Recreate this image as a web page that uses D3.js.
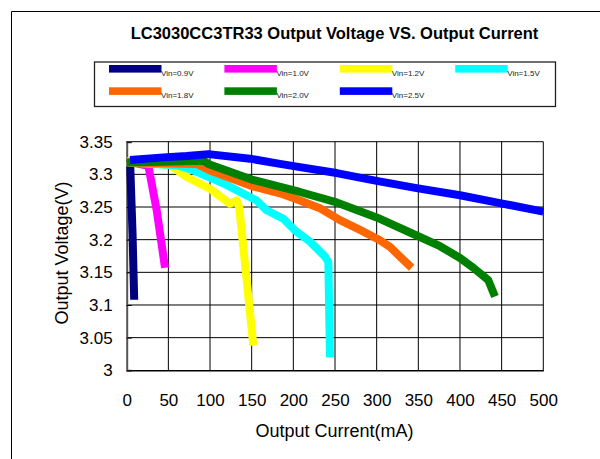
<!DOCTYPE html>
<html>
<head>
    <meta charset="utf-8">
    <title>LC3030CC3TR33 Output Voltage VS. Output Current</title>
    <script src="https://d3js.org/d3.v7.min.js"></script>
    <style>
        body { margin: 0; background: #fff; }
        svg { display: block; font-family: "Liberation Sans", Arial, sans-serif; }
    </style>
</head>
<body>
<svg width="600" height="459"></svg>
<script>
    // data: [output current (mA), output voltage (V)]
    var vin09 = [[4, 3.322], [7, 3.21], [9, 3.108]];
    var vin10 = [[0, 3.32], [26, 3.313], [36, 3.245], [46, 3.157]];
    var vin12 = [[0, 3.32], [20, 3.318], [52, 3.314], [72, 3.296], [100, 3.278], [124, 3.255],
                 [132, 3.26], [135, 3.25], [152, 3.038]];
    var vin15 = [[0, 3.318], [60, 3.314], [76, 3.308], [100, 3.295], [118, 3.285], [156, 3.26],
                 [168, 3.245], [188, 3.232], [202, 3.214], [220, 3.197], [238, 3.174], [242, 3.166], [244, 3.02]];
    var vin18 = [[0, 3.318], [84, 3.316], [100, 3.306], [150, 3.282], [184, 3.271], [208, 3.26],
                 [232, 3.248], [256, 3.23], [280, 3.215], [304, 3.199], [316, 3.189], [328, 3.174], [342, 3.157]];
    var vin20 = [[0, 3.318], [92, 3.321], [98, 3.316], [150, 3.292], [208, 3.273], [252, 3.257],
                 [300, 3.234], [340, 3.211], [376, 3.19], [400, 3.172], [416, 3.157], [434, 3.138], [442, 3.113]];
    var vin25 = [[4, 3.322], [44, 3.326], [72, 3.328], [98, 3.331], [148, 3.324], [184, 3.316],
                 [208, 3.311], [252, 3.302], [300, 3.29], [348, 3.279], [400, 3.268], [448, 3.256], [500, 3.243]];

    var seriesNames = ["Vin=0.9V", "Vin=1.0V", "Vin=1.2V", "Vin=1.5V", "Vin=1.8V", "Vin=2.0V", "Vin=2.5V"];
    var seriesData = [vin09, vin10, vin12, vin15, vin18, vin20, vin25];
    var seriesColors = ["#000080", "#FF00FF", "#FFFF00", "#00FFFF", "#FF6600", "#008000", "#0000FF"];

    var xTicks = [0, 50, 100, 150, 200, 250, 300, 350, 400, 450, 500];
    var yTicks = [3, 3.05, 3.1, 3.15, 3.2, 3.25, 3.3, 3.35];

    var svg = d3.select("svg");

    // outer chart frame (runs off the right and bottom)
    svg.append("path")
        .attr("d", "M11.5,459 V11.5 H600")
        .attr("fill", "none")
        .attr("stroke", "#000")
        .attr("stroke-width", 1);

    svg.append("text")
        .attr("x", 334.5)
        .attr("y", 39)
        .attr("text-anchor", "middle")
        .style("font-weight", "bold")
        .style("font-size", "16.5px")
        .text("LC3030CC3TR33 Output Voltage VS. Output Current");

    // legend
    var legend = svg.append("g");
    legend.append("rect")
        .attr("x", 94.5).attr("y", 62)
        .attr("width", 461).attr("height", 44.5)
        .attr("fill", "#fff")
        .attr("stroke", "#222")
        .attr("stroke-width", 1.3);

    var item = legend.selectAll("g.item")
        .data(seriesNames)
        .enter()
        .append("g")
        .attr("class", "item")
        .attr("transform", function(d, i) {
            return "translate(" + (109 + (i % 4) * 115.4) + "," + (65 + Math.floor(i / 4) * 22.3) + ")";
        });
    item.append("rect")
        .attr("width", 52.5)
        .attr("height", 7.6)
        .attr("fill", function(d, i) { return seriesColors[i]; });
    item.append("text")
        .attr("x", 52)
        .attr("y", 10.8)
        .style("font-size", "8px")
        .attr("fill", "#222")
        .text(function(d) { return d; });

    // plot area
    var xScale = d3.scaleLinear().domain([0, 500]).range([126.7, 543.3]);
    var yScale = d3.scaleLinear().domain([3, 3.35]).range([370.3, 141.7]);

    var grid = svg.append("g");
    grid.selectAll("line.v")
        .data(xTicks.slice(1))
        .enter()
        .append("line")
        .attr("x1", function(d) { return xScale(d); })
        .attr("x2", function(d) { return xScale(d); })
        .attr("y1", yScale(3))
        .attr("y2", yScale(3.35))
        .attr("stroke", "#000")
        .attr("stroke-width", 1);
    grid.selectAll("line.h")
        .data(yTicks.slice(1))
        .enter()
        .append("line")
        .attr("x1", xScale(0))
        .attr("x2", xScale(500))
        .attr("y1", function(d) { return yScale(d); })
        .attr("y2", function(d) { return yScale(d); })
        .attr("stroke", "#000")
        .attr("stroke-width", 1);

    var xAxis = svg.append("g")
        .attr("transform", "translate(0," + yScale(3) + ")")
        .call(d3.axisBottom(xScale).tickValues(xTicks).tickSize(0).tickPadding(24).tickFormat(d3.format("d")));
    xAxis.select(".domain").attr("stroke", "#000").attr("stroke-width", 1.5);
    xAxis.selectAll("text").style("font-size", "17px").attr("fill", "#000");

    var yAxis = svg.append("g")
        .attr("transform", "translate(" + xScale(0) + ",0)")
        .call(d3.axisLeft(yScale).tickValues(yTicks).tickSize(-5).tickPadding(14).tickFormat(function(d) { return String(+d.toFixed(2)); }));
    yAxis.select(".domain").attr("stroke", "#555").attr("stroke-width", 2);
    yAxis.selectAll("text").style("font-size", "17px").attr("fill", "#000");

    // curves
    var line = d3.line()
        .x(function(d) { return xScale(d[0]); })
        .y(function(d) { return yScale(d[1]); });

    svg.append("g")
        .selectAll("path")
        .data(seriesData)
        .enter()
        .append("path")
        .attr("d", line)
        .attr("fill", "none")
        .attr("stroke", function(d, i) { return seriesColors[i]; })
        .attr("stroke-width", 8)
        .attr("stroke-linejoin", "round")
        .attr("stroke-linecap", "butt");

    // axis titles
    svg.append("text")
        .attr("x", 334.5)
        .attr("y", 437)
        .attr("text-anchor", "middle")
        .style("font-size", "18px")
        .text("Output Current(mA)");

    svg.append("text")
        .attr("transform", "translate(68,253) rotate(-90)")
        .attr("text-anchor", "middle")
        .style("font-size", "18px")
        .text("Output Voltage(V)");
</script>
</body>
</html>
